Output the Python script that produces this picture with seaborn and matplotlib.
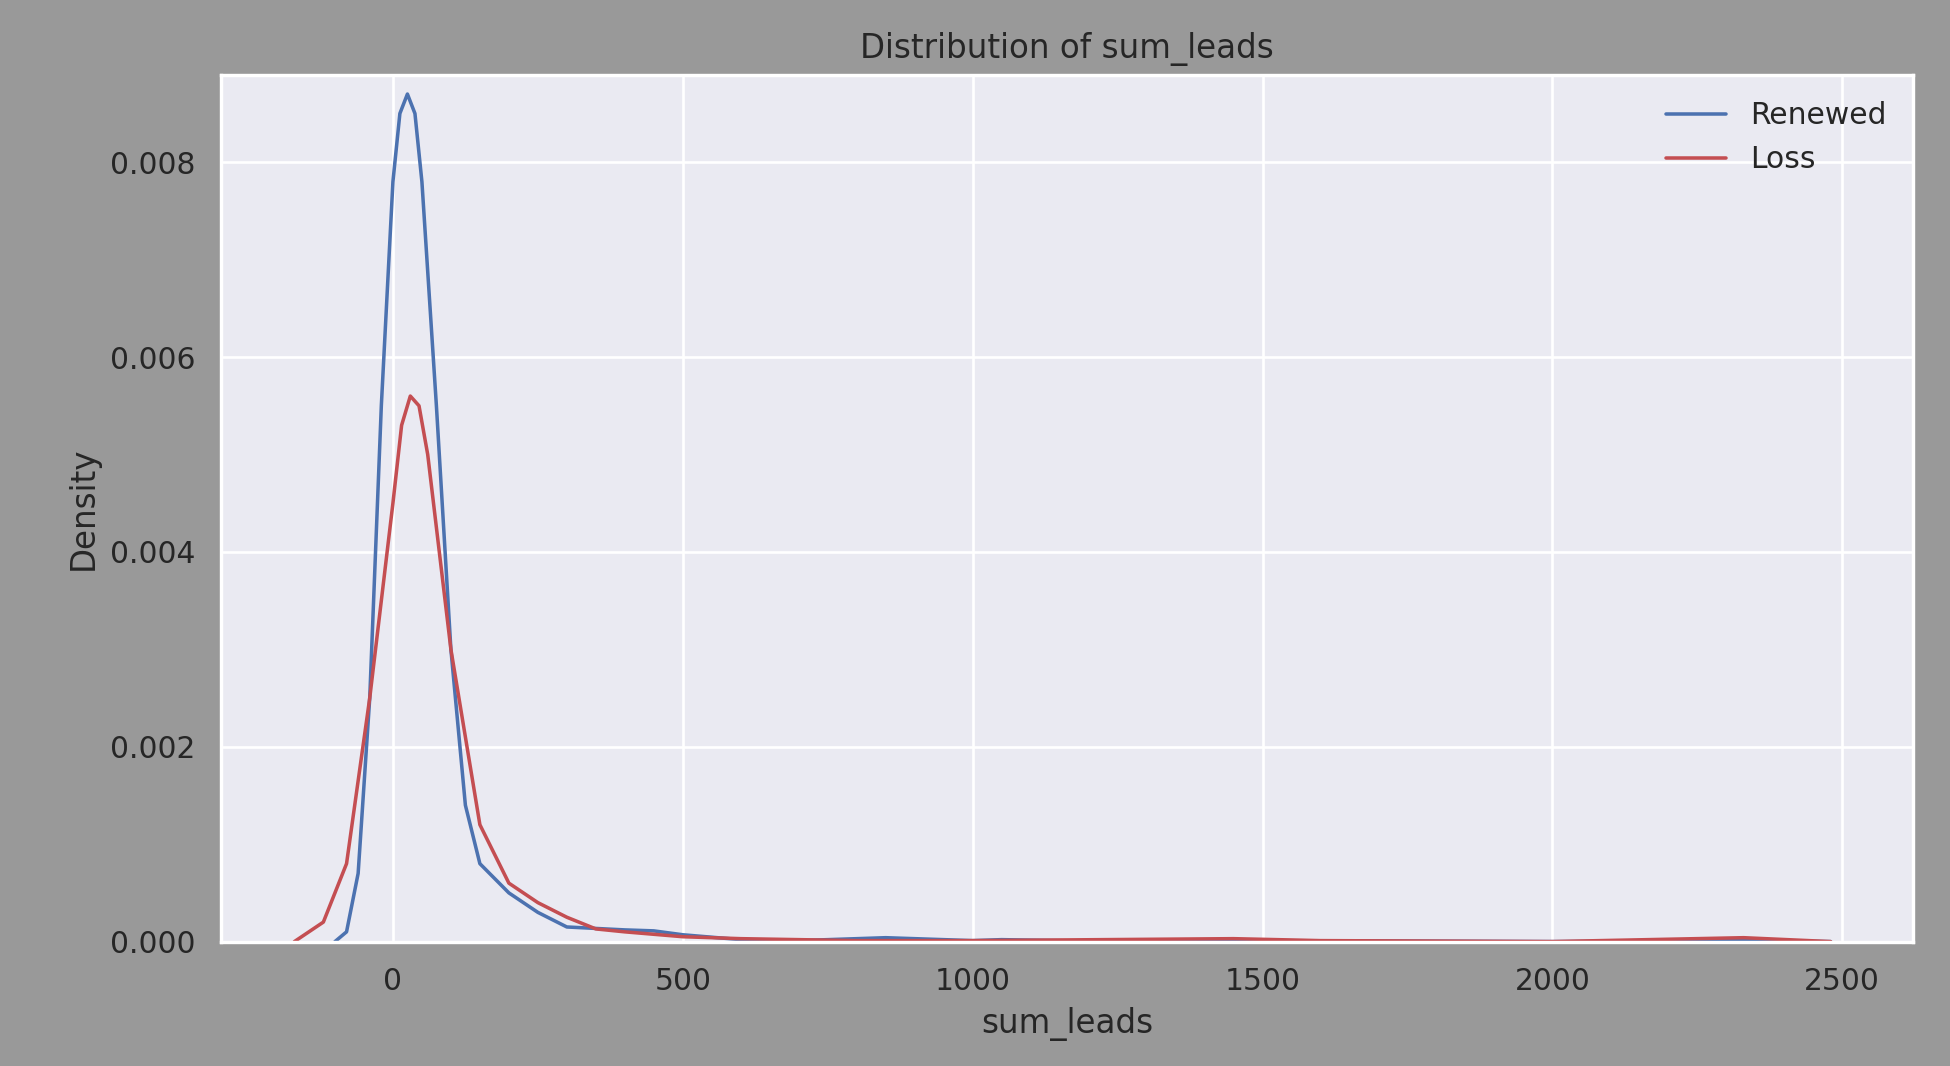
import matplotlib
matplotlib.use("Agg")
import matplotlib.pyplot as plt
import seaborn as sns
import pandas as pd

renewed_x = [-100, -80, -60, -40, -20, 0, 12, 25, 38, 50, 75, 100, 125, 150, 200, 250, 300, 400, 450, 500, 600, 700, 850, 1000, 1050, 1200, 1500, 2000, 2350, 2480]
renewed_y = [0, 0.0001, 0.0007, 0.0025, 0.0055, 0.0078, 0.0085, 0.0087, 0.0085, 0.0078, 0.0055, 0.0030, 0.0014, 0.0008, 0.0005, 0.0003, 0.00015, 0.00012, 0.00011, 0.00007, 0.00002, 0.00001, 0.00004, 0.00001, 0.00002, 0.000005, 0.00001, 0.0, 0.00001, 0.0]
loss_x = [-170, -120, -80, -40, 0, 15, 30, 45, 60, 100, 150, 200, 250, 300, 350, 400, 500, 600, 800, 1000, 1450, 1600, 2000, 2330, 2480]
loss_y = [0, 0.0002, 0.0008, 0.0025, 0.0045, 0.0053, 0.0056, 0.0055, 0.0050, 0.0030, 0.0012, 0.0006, 0.0004, 0.00025, 0.00013, 0.0001, 0.00005, 0.00003, 0.00001, 0.00001, 0.00003, 0.00001, 0.0, 0.00004, 0.0]

df = pd.concat([
    pd.DataFrame({"sum_leads": renewed_x, "Density": renewed_y, "grp": "Renewed"}),
    pd.DataFrame({"sum_leads": loss_x, "Density": loss_y, "grp": "Loss"}),
])

sns.set_theme(style="darkgrid")
plt.rcParams['font.family'] = ['DejaVu Sans']
fig = plt.figure(figsize=(10, 5.467), dpi=195, facecolor="#999999")
ax = fig.add_axes([0.1135, 0.1167, 0.8675, 0.8133])
sns.lineplot(data=df, x="sum_leads", y="Density", hue="grp", sort=False,
             palette={"Renewed": "#4c72b0", "Loss": "#c44e52"}, linewidth=1.3, ax=ax)
ax.set_xlim(-296, 2622)
ax.set_ylim(0, 0.0089)
ax.set_xticks([0, 500, 1000, 1500, 2000, 2500])
ax.set_yticks([0, 0.002, 0.004, 0.006, 0.008])
ax.set_yticklabels(["0.000", "0.002", "0.004", "0.006", "0.008"])
ax.tick_params(labelsize=11)
ax.set_title("Distribution of sum_leads", fontsize=12)
ax.set_xlabel("sum_leads", fontsize=12)
ax.set_ylabel("Density", fontsize=12)
leg = ax.legend(title=None, frameon=False, fontsize=11, loc="upper right")
fig.savefig("out.png", dpi=195, facecolor=fig.get_facecolor())
